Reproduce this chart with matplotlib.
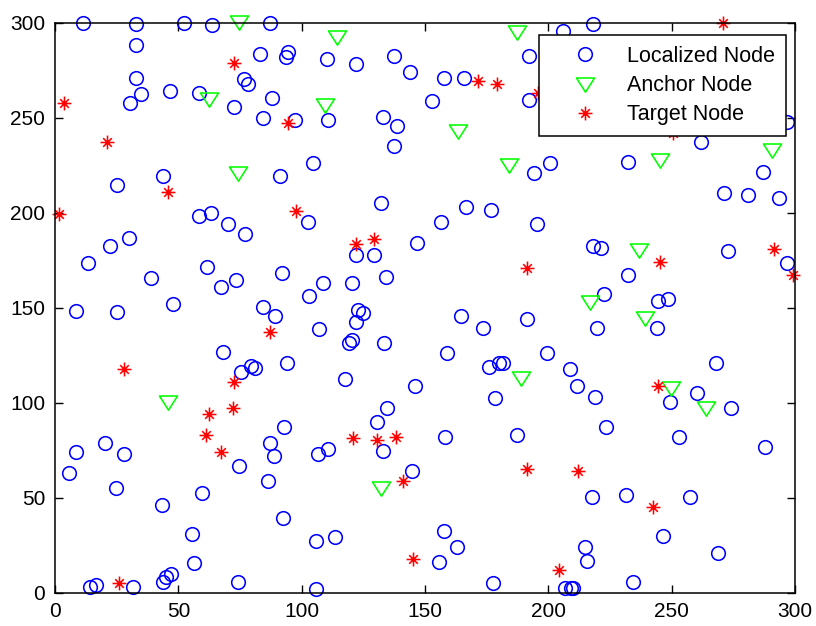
import matplotlib
matplotlib.use("Agg")
import matplotlib.pyplot as plt
from matplotlib.path import Path
import numpy as np

plt.rcParams['font.family'] = ['Liberation Sans', 'DejaVu Sans']

# Localized nodes (blue circles)
loc_x = [11.2, 32.7, 52.3, 63.7, 87.1, 32.7, 83.1, 94.6, 93.5, 32.7, 76.7, 78.3, 34.7, 30.5, 46.5, 58.4, 72.7, 88.1, 84.4, 97.3, 25.1, 43.9, 91.2,
         110.1, 121.9, 137.6, 143.9, 157.7, 165.9, 192.3, 192.3, 152.8, 110.8, 132.8, 138.5, 137.6, 104.5, 194.3, 200.7, 132.0, 166.5, 176.9,
         205.8, 218.3, 296.7, 261.8, 232.2, 287.2, 271.4, 281.1, 293.6,
         58.4, 63.1, 70.0, 76.9, 30.0, 22.3, 13.5, 61.7, 38.9, 73.4, 67.2, 92.1, 47.8, 8.5, 25.1, 84.4, 89.3, 68.0, 75.4, 79.4, 81.1, 94.0,
         102.4, 156.4, 195.5, 121.9, 129.3, 146.6, 134.1, 108.8, 120.4, 103.1, 123.0, 124.7, 121.9, 107.1, 119.2, 120.5, 133.5, 164.6, 173.4,
         191.5, 159.0, 199.3, 176.1, 180.1, 181.7, 117.6, 146.0, 178.4,
         218.3, 221.2, 272.7, 296.9, 232.2, 222.6, 244.4, 248.7, 244.0, 219.7, 208.8, 211.5, 219.1, 260.4, 268.0, 249.4,
         92.9, 87.1, 88.8, 74.7, 86.5, 8.5, 20.2, 28.1, 5.8, 24.6, 59.7, 43.2, 92.5, 55.6, 56.3, 43.6, 45.0, 46.9, 14.2, 16.6, 31.5, 74.3,
         134.7, 130.7, 132.8, 106.5, 110.8, 158.2, 187.2, 144.6, 105.8, 113.5, 157.6, 163.1, 155.6, 105.8, 177.7,
         274.1, 223.3, 252.9, 288.0, 217.6, 231.5, 257.5, 246.6, 268.7, 214.9, 215.7, 206.8, 209.1, 210.1, 234.2]
loc_y = [299.7, 299.3, 299.7, 299.0, 299.7, 288.3, 283.7, 284.7, 281.8, 271.0, 270.4, 267.7, 262.3, 257.9, 264.0, 263.2, 255.8, 260.2, 249.7, 248.8, 214.7, 219.3, 219.3,
         280.9, 278.3, 282.6, 273.9, 271.1, 271.1, 282.6, 259.3, 258.8, 248.8, 250.5, 245.8, 235.3, 226.2, 221.1, 226.3, 205.0, 202.8, 201.4,
         295.8, 299.2, 247.9, 237.0, 226.8, 221.6, 210.2, 209.3, 207.6,
         198.4, 199.7, 194.0, 188.8, 186.8, 182.5, 173.7, 171.6, 165.5, 164.6, 161.1, 168.1, 152.0, 148.4, 147.6, 150.5, 145.8, 126.8, 116.2, 119.3, 118.1, 120.7,
         195.0, 195.0, 194.0, 177.7, 177.7, 184.2, 166.3, 162.8, 162.8, 156.3, 148.8, 147.4, 142.6, 138.6, 131.3, 133.0, 131.3, 145.6, 139.5,
         143.9, 126.0, 126.0, 119.0, 120.7, 120.7, 112.5, 109.0, 102.3,
         182.6, 181.6, 179.8, 173.7, 167.2, 157.2, 153.7, 154.6, 139.5, 139.5, 117.7, 109.0, 103.2, 105.0, 120.7, 100.5,
         87.4, 78.6, 72.1, 66.7, 59.0, 73.9, 78.6, 73.0, 63.2, 54.9, 52.3, 46.2, 39.2, 30.9, 15.8, 5.5, 8.4, 9.8, 3.2, 4.2, 3.2, 5.8,
         97.0, 90.0, 74.7, 73.0, 75.6, 82.1, 83.0, 64.2, 27.4, 29.5, 32.6, 23.9, 16.3, 1.9, 5.3,
         97.0, 87.4, 82.1, 76.5, 50.5, 51.4, 50.5, 30.0, 21.1, 23.9, 16.5, 2.3, 2.3, 2.3, 5.8]

# Anchor nodes (green triangles)
anc_x = [74.7, 62.5, 74.3, 114.2, 187.4, 109.3, 163.3, 183.9, 245.3, 290.8, 188.8, 236.9, 216.9, 239.2, 249.6, 45.9, 132.2, 263.8]
anc_y = [300.5, 259.7, 220.7, 292.6, 295.3, 256.7, 243.2, 225.1, 228.0, 233.0, 112.8, 180.4, 153.2, 144.4, 107.6, 100.5, 54.9, 97.0]

# Target nodes (red asterisks)
tgt_x = [72.7, 94.6, 3.6, 20.9, 45.9, 171.6, 179.1, 210.5, 270.7, 250.5, 196.0, 1.7, 97.6, 87.1, 72.5, 27.9, 121.9, 129.3, 191.5,
         245.3, 291.6, 299.1, 244.4, 62.5, 72.0, 61.1, 67.3, 25.9, 120.9, 130.7, 138.2, 191.5, 141.2, 145.3, 212.2, 242.6, 204.5]
tgt_y = [278.6, 247.0, 257.6, 237.0, 211.0, 269.3, 267.6, 290.0, 300.0, 242.0, 263.0, 199.3, 201.0, 137.4, 111.1, 117.7, 183.4, 186.2, 170.7,
         174.2, 180.7, 167.2, 109.0, 93.9, 97.4, 83.0, 73.9, 5.3, 81.3, 80.4, 82.1, 65.1, 59.0, 17.6, 64.0, 45.3, 11.9]

ticks = [0, 50, 100, 150, 200, 250, 300]
labels = ['Localized Node', 'Anchor Node', 'Target Node']

tri = Path([(-1, 0.72), (1, 0.72), (0, -0.85), (-1, 0.72)],
           [Path.MOVETO, Path.LINETO, Path.LINETO, Path.CLOSEPOLY])
d = 0.62
ast = Path([(-1, 0), (1, 0), (0, -1), (0, 1), (-d, -d), (d, d), (-d, d), (d, -d)],
           [Path.MOVETO, Path.LINETO] * 4)

fig = plt.figure(figsize=(8.16, 6.26), dpi=100)
ax = fig.add_axes([0.0675, 0.0532, 0.9066, 0.9105])

ax.plot(loc_x, loc_y, linestyle='none', marker='o', markersize=9.8, markerfacecolor='none',
        markeredgecolor=(0, 0, 1), markeredgewidth=1.15, clip_on=False, label=labels[0])
ax.plot(anc_x, anc_y, linestyle='none', marker=tri, markersize=13, markerfacecolor='none',
        markeredgecolor=(0, 1, 0), markeredgewidth=1.15, clip_on=False, label=labels[1])
ax.plot(tgt_x, tgt_y, linestyle='none', marker=ast, markersize=10, markerfacecolor='none',
        markeredgecolor=(1, 0, 0), markeredgewidth=1.15, clip_on=False, label=labels[2])

ax.set_xlim(0, 300)
ax.set_ylim(0, 300)
ax.set_xticks(ticks)
ax.set_yticks(ticks)
ax.tick_params(direction='in', length=5.5, width=1, top=True, right=True,
               labelsize=15, pad=7, colors='black')
for s in ax.spines.values():
    s.set_linewidth(1.1)

leg = ax.legend(loc='upper right', bbox_to_anchor=(0.988, 0.978), borderaxespad=0,
                fontsize=15.5, handlelength=3.3, handletextpad=0.3, labelspacing=0.38,
                borderpad=0.5, fancybox=False, framealpha=1, edgecolor='black')
leg.get_frame().set_linewidth(1.1)
leg.set_zorder(10)

fig.savefig('out.png', dpi=100)
